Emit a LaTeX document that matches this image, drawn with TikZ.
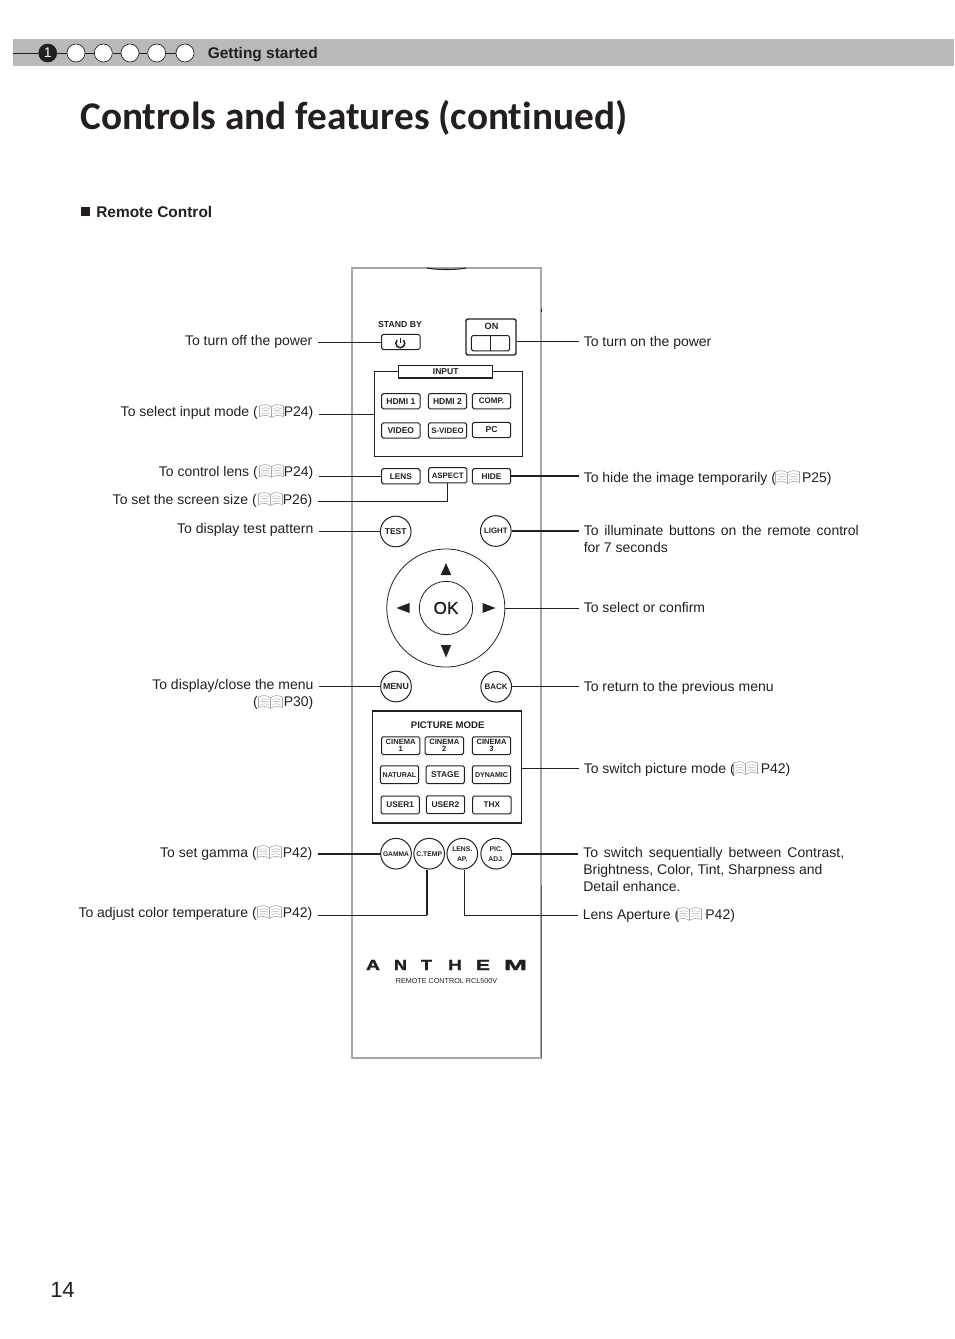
\documentclass[tikz,border=0pt]{standalone}
\usepackage{fontspec}
\setmainfont{Liberation Sans}
\newfontfamily\titlefont[Ligatures=NoCommon]{Carlito}
\newfontfamily\okfont[FakeBold=0.6]{Liberation Sans}
\newfontfamily\logofont[UprightFont={* Bold},FakeBold=1.5]{Liberation Sans}
\definecolor{barg}{HTML}{B9B9B9}
\definecolor{edgeg}{HTML}{A6A6A6}
\definecolor{ink}{HTML}{231F20}
\newcommand{\fs}[1]{\fontsize{#1}{#1}\selectfont}
\newcommand{\fsl}[2]{\fontsize{#1}{#2}\selectfont}
\newcommand{\bk}{\hspace{19.6pt}}
\newcommand{\lgl}[2]{\resizebox{#1pt}{7.6pt}{#2}}
\tikzset{
  lbl/.style={font=\fs{10.5}, text=ink, inner ysep=0pt},
  lblL/.style={lbl, anchor=base east, inner xsep=4pt},
  lblR/.style={lbl, anchor=base west, inner xsep=3.75pt},
  btn/.style={draw=ink, line width=.75pt, rounded corners=1.2pt, minimum width=28.8pt, minimum height=11.4pt, inner sep=0pt, font=\fs{#1}\bfseries, text=ink, align=center},
  rbtn/.style={draw=ink, line width=.75pt, circle, minimum size=23pt, inner sep=0pt, font=\fs{#1}\bfseries, text=ink, align=center},
  wire/.style={draw=ink, line width=.7pt},
  wireb/.style={draw=ink, line width=1.35pt},
  dot/.style={circle, draw=ink, line width=.5pt, fill=white, minimum size=13.5pt, inner sep=0pt},
  frame/.style={draw=ink, line width=1.05pt},
  tri/.style={fill=ink},
  two/.style={btn=5.7, minimum height=13.4pt},
  pics/book/.style={code={
    \draw[edgeg, line width=.45pt, fill=white] (0,-4) .. controls (-3,-7) and (-8,-7) .. (-12,-5) -- (-12,5.5) .. controls (-8,4) and (-3,4) .. (0,6.5) .. controls (3,4) and (8,4) .. (12,5.5) -- (12,-5) .. controls (8,-7) and (3,-7) .. (0,-4) -- (0,6.5);
    \foreach \d in {-2.5,0,2.5}{
      \draw[edgeg, line width=.35pt] (-10,\d) .. controls (-7,\d-1) and (-4,\d-1) .. (-2,\d);
      \draw[edgeg, line width=.35pt] (2,\d) .. controls (4,\d-1) and (7,\d-1) .. (10,\d);
    }
  }}
}
\begin{document}
\begin{tikzpicture}[x=.75pt,y=-.75pt]
\useasboundingbox (0,0) rectangle (954,1339);
% header
\fill[barg] (13,39) rectangle (954,66);
\coordinate (hstart) at (13,53);
\node[dot, fill=ink, text=white, font=\fs{10.5}] (h1) at (47.7,53) {1};
\node[dot] (h2) at (76,53) {};
\node[dot] (h3) at (103.3,53) {};
\node[dot] (h4) at (130,53) {};
\node[dot] (h5) at (156.7,53) {};
\node[dot] (h6) at (185,53) {};
\draw[ink, line width=.6pt] (hstart) -- (h1) (h1) -- (h2) (h2) -- (h3) (h3) -- (h4) (h4) -- (h5) (h5) -- (h6);
\node[anchor=base west, inner sep=0pt, font=\fs{11.6}\bfseries, text=ink] (hdr) at (207.5,58.3) {Getting started};
\node[anchor=base west, inner sep=0pt, font=\titlefont\fs{30}\bfseries, text=ink] (title) at (80,129.5) {\resizebox{410.25pt}{!}{Controls and features (continued)}};
\fill[ink] (81,207) rectangle (90,216);
\node[anchor=base west, inner sep=0pt, font=\fs{11.6}\bfseries, text=ink] (rc) at (96,217) {Remote Control};
\node[anchor=base west, inner sep=0pt, font=\fs{16.5}, text=ink] (pg) at (50,1297) {14};
% remote body
\draw[edgeg, line width=.9pt] (352,268) rectangle (541,1058);
\draw[ink, line width=.8pt] (427,268) .. controls (437,270) and (456,270) .. (466,268);
\draw[black!60, line width=.5pt] (541,885) -- (541,1058);
\fill[ink] (540.5,309) rectangle (541.5,312);
\fill[ink] (479,661) circle (.5);
% power row
\node[font=\fs{6.5}\bfseries, text=ink, inner sep=0pt] (sbt) at (400,325) {STAND BY};
\node[btn=6] (standby) at (400.8,342) {};
\draw[ink, line width=1.1pt] (400.3,337.5) -- (400.3,343);
\draw[ink, line width=1.1pt] (397.1,340.1) arc[start angle=-135, end angle=-405, radius=4.5];
\node[frame, rounded corners=1.5pt, minimum width=37.5pt, minimum height=27pt, inner sep=0pt] (onbox) at (491,337) {};
\node[font=\fs{6.8}\bfseries, text=ink, inner sep=0pt] (ont) at (491.5,326.5) {ON};
\node[btn=6] (onsw) at (490.5,343.2) {};
\draw[ink, line width=1.1pt] (onsw.north) -- (onsw.south);
% input
\node[frame, minimum width=111pt, minimum height=63.8pt, inner sep=0pt] (inbox) at (448.3,414.2) {};
\node[frame, fill=white, minimum width=70.5pt, minimum height=9.2pt, inner sep=0pt, font=\fs{6.4}\bfseries, text=ink] (intitle) at (445.7,371.8) {INPUT};
\node[btn=6.4] (hdmi1) at (400.8,401.2) {HDMI 1};
\node[btn=6.4] (hdmi2) at (447.5,401.2) {HDMI 2};
\node[btn=6] (comp) at (491.5,401.2) {COMP.};
\node[btn=6.4] (video) at (400.8,430.5) {VIDEO};
\node[btn=5.9] (svideo) at (447.5,430.5) {S-VIDEO};
\node[btn=6.4] (pc) at (491.5,430) {PC};
\node[btn=6.2] (lens) at (400.8,476.3) {LENS};
\node[btn=5.9] (aspect) at (447.7,475.3) {ASPECT};
\node[btn=6.2] (hide) at (491.5,476.3) {HIDE};
\node[rbtn=6.4] (test) at (395.7,531.5) {TEST};
\node[rbtn=5.9] (light) at (495.8,531) {LIGHT};
% d-pad
\node[circle, draw=ink, line width=.6pt, minimum size=88.5pt, inner sep=0pt] (dpad) at (445.8,608) {};
\node[circle, draw=ink, line width=.6pt, minimum size=40pt, inner sep=0pt, font=\okfont\fs{13}, text=ink] (ok) at (446,608) {OK};
\fill[tri] (446,563) -- (451.2,575) -- (440.8,575) -- cycle;
\fill[tri] (446,657.5) -- (451.2,645) -- (440.8,645) -- cycle;
\fill[tri] (396.5,608) -- (409.5,603) -- (409.5,613) -- cycle;
\fill[tri] (495.5,608) -- (482.5,603) -- (482.5,613) -- cycle;
\node[rbtn=6.6] (menu) at (396,686.5) {MENU};
\node[rbtn=6] (back) at (496.2,686.8) {BACK};
% picture mode
\node[frame, minimum width=112pt, minimum height=84pt, inner sep=0pt] (pmbox) at (447,767) {};
\node[font=\fs{7.2}\bfseries, text=ink, inner sep=0pt] (pmt) at (447.7,725) {PICTURE MODE};
\node[two, font=\fsl{5.7}{5.4}\bfseries] (cin1) at (400.7,745.7) {CINEMA\\1};
\node[two, font=\fsl{5.7}{5.4}\bfseries] (cin2) at (444.3,745.7) {CINEMA\\2};
\node[two, font=\fsl{5.7}{5.4}\bfseries] (cin3) at (491.5,745.7) {CINEMA\\3};
\node[two, font=\fs{5.3}\bfseries] (natural) at (399.5,774.7) {NATURAL};
\node[two, font=\fs{6.3}\bfseries] (stage) at (445.2,774.7) {STAGE};
\node[two, font=\fs{5.3}\bfseries] (dynamic) at (491.5,774.7) {DYNAMIC};
\node[two, font=\fs{6.2}\bfseries] (user1) at (400.2,805) {USER1};
\node[two, font=\fs{6.2}\bfseries] (user2) at (445.5,804.7) {USER2};
\node[two, font=\fs{6.2}\bfseries] (thx) at (491.8,805) {THX};
% bottom round row
\node[rbtn=5] (gamma) at (396,853.7) {GAMMA};
\node[rbtn=5.1] (ctemp) at (429.2,853.7) {C.TEMP};
\node[rbtn=5.1, font=\fsl{5.1}{7.5}\bfseries] (lensap) at (462.3,853.7) {LENS.\\AP.};
\node[rbtn=5.1, font=\fsl{5.1}{7.5}\bfseries] (picadj) at (496.2,853.7) {PIC.\\ADJ.};
% logo
\node[inner sep=0pt, font=\logofont\fs{11}, text=ink] (logo) at (446.5,965) {\lgl{10.5}{A}\hspace{10.5pt}\lgl{9.75}{N}\hspace{10.5pt}\lgl{8.25}{T}\hspace{12pt}\lgl{10.5}{H}\hspace{10.5pt}\lgl{10.5}{E}\hspace{10.5pt}\lgl{17.25}{M}};
\node[inner sep=0pt, font=\fs{5.4}, text=ink] (model) at (446.5,981.5) {REMOTE CONTROL RCL500V};
% left labels
\node[lblL] (lOff) at (318,345) {To turn off the power};
\node[lblL] (lInput) at (319,416) {To select input mode (\bk P24)};
\node[lblL] (lLens) at (319,476) {To control lens (\bk P24)};
\node[lblL] (lAspect) at (318,504) {To set the screen size (\bk P26)};
\node[lblL] (lTest) at (319,533) {To display test pattern};
\node[lbl, inner xsep=4pt, align=right, anchor=north east] (lMenu) at (319,679.5) {To display/close the menu\\[2.25pt](\bk P30)};
\node[lblL] (lGamma) at (318,857) {To set gamma (\bk P42)};
\node[lblL] (lCtemp) at (318,917) {To adjust color temperature (\bk P42)};
% right labels
\node[lblR] (rOn) at (578.5,346) {To turn on the power};
\node[lblR] (rHide) at (578.5,482) {To hide the image temporarily (\bk P25)};
\node[lbl, inner xsep=3.75pt, align=left, anchor=north west] (rLight) at (578.5,525) {\makebox[206.25pt][s]{To illuminate buttons on the remote control}\\[2.25pt]for 7 seconds};
\node[lblR] (rSel) at (578.5,612) {To select or confirm};
\node[lblR] (rBack) at (578.5,691) {To return to the previous menu};
\node[lblR] (rPm) at (578.5,773) {To switch picture mode (\bk P42)};
\node[lbl, inner xsep=3.75pt, align=left, anchor=north west] (rAdj) at (578,847) {\makebox[195.75pt][s]{To switch sequentially between Contrast,}\\[2.25pt]Brightness, Color, Tint, Sharpness and\\[2.25pt]Detail enhance.};
\node[lblR] (rLap) at (577.5,919) {Lens Aperture (\bk P42)};
% book icons
\foreach \p in {(271.5,411),(271.5,471),(270.5,499),(270.5,702),(269.5,852),(269.5,912),(787.5,477),(745.5,768),(689.5,914)}
  \pic at \p {book};
% connectors
\coordinate (yOn) at (0,341.5);
\coordinate (yAsp) at (0,501);
\coordinate (yLow) at (0,915);
\coordinate (yPm) at (0,768);
\coordinate (xCt) at (427.2,0);
\coordinate (xLa) at (464.7,0);
\draw[wire] (lOff.east |- standby.west) -- (standby.west);
\draw[wire] (onbox.east |- yOn) -- (rOn.west |- yOn);
\draw[wire] (lInput.east |- inbox.west) -- (inbox.west);
\draw[wire] (lLens.east |- lens.west) -- (lens.west);
\draw[wire] (lAspect.east |- yAsp) -| (aspect.south);
\draw[wireb] (hide.east) -- (rHide.west |- hide.east);
\draw[wireb] (lTest.east |- test.west) -- (test.west);
\draw[wireb] (light.east) -- (rLight.west |- light.east);
\draw[wire] (dpad.east) -- (rSel.west |- dpad.east);
\draw[wireb] (lMenu.east |- menu.west) -- (menu.west);
\draw[wire] (back.east) -- (rBack.west |- back.east);
\draw[wire] (pmbox.east |- yPm) -- (rPm.west |- yPm);
\draw[wireb] (lGamma.east |- gamma.west) -- (gamma.west);
\draw[wireb] (picadj.east) -- (rAdj.west |- picadj.east);
\draw[wire] (lCtemp.east |- yLow) -- (xCt |- yLow);
\draw[wireb] (xCt |- yLow) -- (xCt |- ctemp.south);
\draw[wire] (xLa |- lensap.south) -- (xLa |- yLow) -- (rLap.west |- yLow);
\end{tikzpicture}
\end{document}
